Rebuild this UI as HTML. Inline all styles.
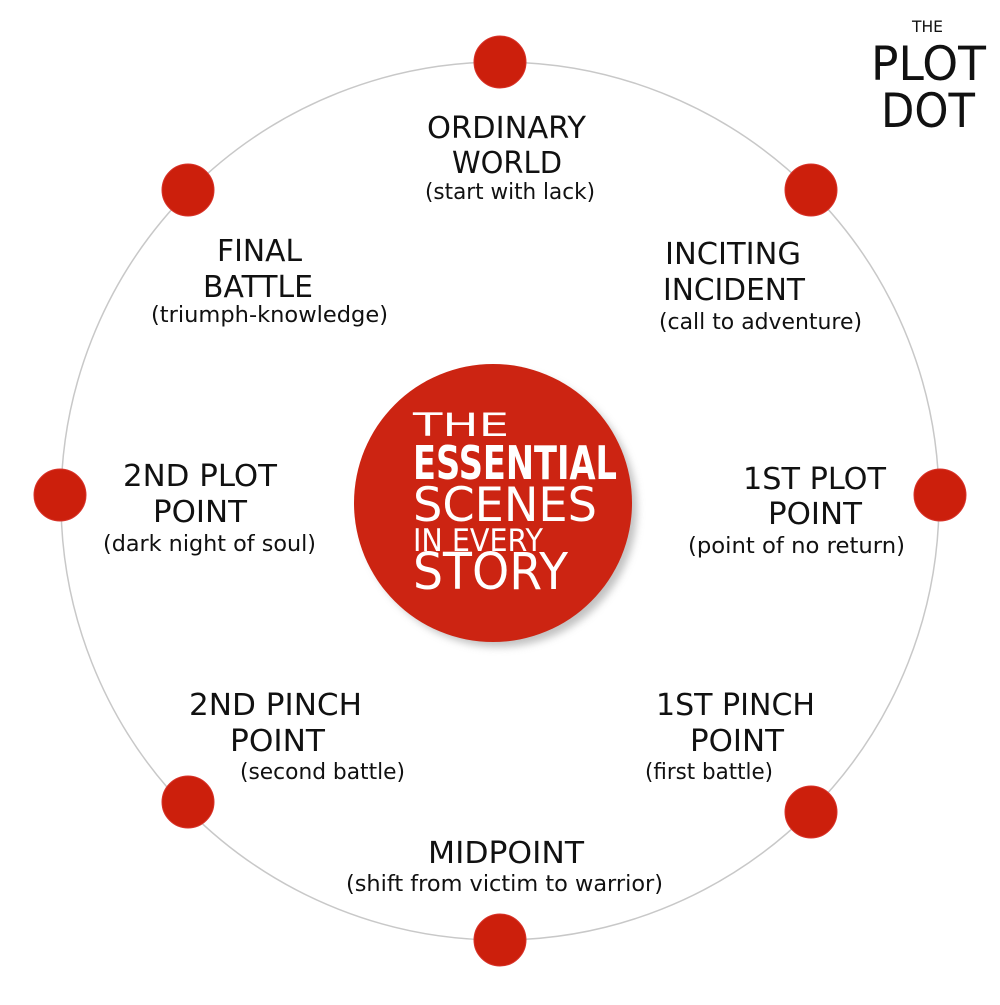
<!DOCTYPE html>
<html><head><meta charset="utf-8"><style>
html,body{margin:0;padding:0;background:#fff}
svg text{font-family:"DejaVu Sans","Liberation Sans",sans-serif}
</style></head><body>
<svg width="1000" height="1000" viewBox="0 0 1000 1000" xmlns="http://www.w3.org/2000/svg">
<defs>
<filter id="sh" x="-20%" y="-20%" width="150%" height="150%"><feGaussianBlur stdDeviation="4"/></filter>
</defs>
<circle cx="500" cy="501" r="439" fill="none" stroke="#c8c8c8" stroke-width="1.5"/>
<g fill="#cc1f0c" stroke="#d8332a" stroke-width="1">
<circle cx="500" cy="62" r="26"/>
<circle cx="811" cy="190" r="26"/>
<circle cx="940" cy="495" r="26"/>
<circle cx="811" cy="812" r="26"/>
<circle cx="500" cy="940" r="26"/>
<circle cx="188" cy="802" r="26"/>
<circle cx="60" cy="495" r="26"/>
<circle cx="188" cy="190" r="26"/>
</g>
<circle cx="499" cy="509" r="138" fill="#999" opacity="0.6" filter="url(#sh)"/>
<circle cx="493" cy="503" r="139" fill="#cc2412"/>
<g fill="#fff" style="font-family:'Liberation Sans',sans-serif">
<text x="413" y="436" font-size="32" textLength="96" lengthAdjust="spacingAndGlyphs">THE</text>
<text x="413" y="479" font-size="46" font-weight="bold" textLength="204" lengthAdjust="spacingAndGlyphs">ESSENTIAL</text>
<text x="413" y="521" font-size="47" textLength="184" lengthAdjust="spacingAndGlyphs">SCENES</text>
<text x="413" y="551" font-size="31" textLength="130" lengthAdjust="spacingAndGlyphs">IN EVERY</text>
<text x="413" y="589" font-size="51" textLength="155" lengthAdjust="spacingAndGlyphs">STORY</text>
</g>
<g fill="#111">
<text x="912" y="32" font-size="16" textLength="31" lengthAdjust="spacingAndGlyphs">THE</text>
<text x="871" y="80" font-size="47" textLength="115" lengthAdjust="spacingAndGlyphs">PLOT</text>
<text x="881" y="127" font-size="47" textLength="94" lengthAdjust="spacingAndGlyphs">DOT</text>
<g font-size="30">
<text x="427" y="138" textLength="159" lengthAdjust="spacingAndGlyphs">ORDINARY</text>
<text x="452" y="173" textLength="110" lengthAdjust="spacingAndGlyphs">WORLD</text>
<text x="665" y="264" textLength="136" lengthAdjust="spacingAndGlyphs">INCITING</text>
<text x="663" y="300" textLength="142" lengthAdjust="spacingAndGlyphs">INCIDENT</text>
<text x="217" y="261" textLength="85" lengthAdjust="spacingAndGlyphs">FINAL</text>
<text x="203" y="297" textLength="110" lengthAdjust="spacingAndGlyphs">BATTLE</text>
<text x="123" y="486" textLength="154" lengthAdjust="spacingAndGlyphs">2ND PLOT</text>
<text x="153" y="522" textLength="94" lengthAdjust="spacingAndGlyphs">POINT</text>
<text x="743" y="489" textLength="143" lengthAdjust="spacingAndGlyphs">1ST PLOT</text>
<text x="768" y="524" textLength="94" lengthAdjust="spacingAndGlyphs">POINT</text>
<text x="189" y="715" textLength="173" lengthAdjust="spacingAndGlyphs">2ND PINCH</text>
<text x="230" y="751" textLength="95" lengthAdjust="spacingAndGlyphs">POINT</text>
<text x="656" y="715" textLength="159" lengthAdjust="spacingAndGlyphs">1ST PINCH</text>
<text x="690" y="751" textLength="94" lengthAdjust="spacingAndGlyphs">POINT</text>
<text x="428" y="863" textLength="156" lengthAdjust="spacingAndGlyphs">MIDPOINT</text>
</g>
<g font-size="22">
<text x="425" y="199" textLength="170" lengthAdjust="spacingAndGlyphs">(start with lack)</text>
<text x="659" y="329" textLength="203" lengthAdjust="spacingAndGlyphs">(call to adventure)</text>
<text x="151" y="322" textLength="237" lengthAdjust="spacingAndGlyphs">(triumph-knowledge)</text>
<text x="103" y="551" textLength="213" lengthAdjust="spacingAndGlyphs">(dark night of soul)</text>
<text x="688" y="553" textLength="217" lengthAdjust="spacingAndGlyphs">(point of no return)</text>
<text x="240" y="779" textLength="165" lengthAdjust="spacingAndGlyphs">(second battle)</text>
<text x="645" y="779" textLength="128" lengthAdjust="spacingAndGlyphs">(first battle)</text>
<text x="346" y="891" textLength="317" lengthAdjust="spacingAndGlyphs">(shift from victim to warrior)</text>
</g>
</g>
</svg>
</body></html>
